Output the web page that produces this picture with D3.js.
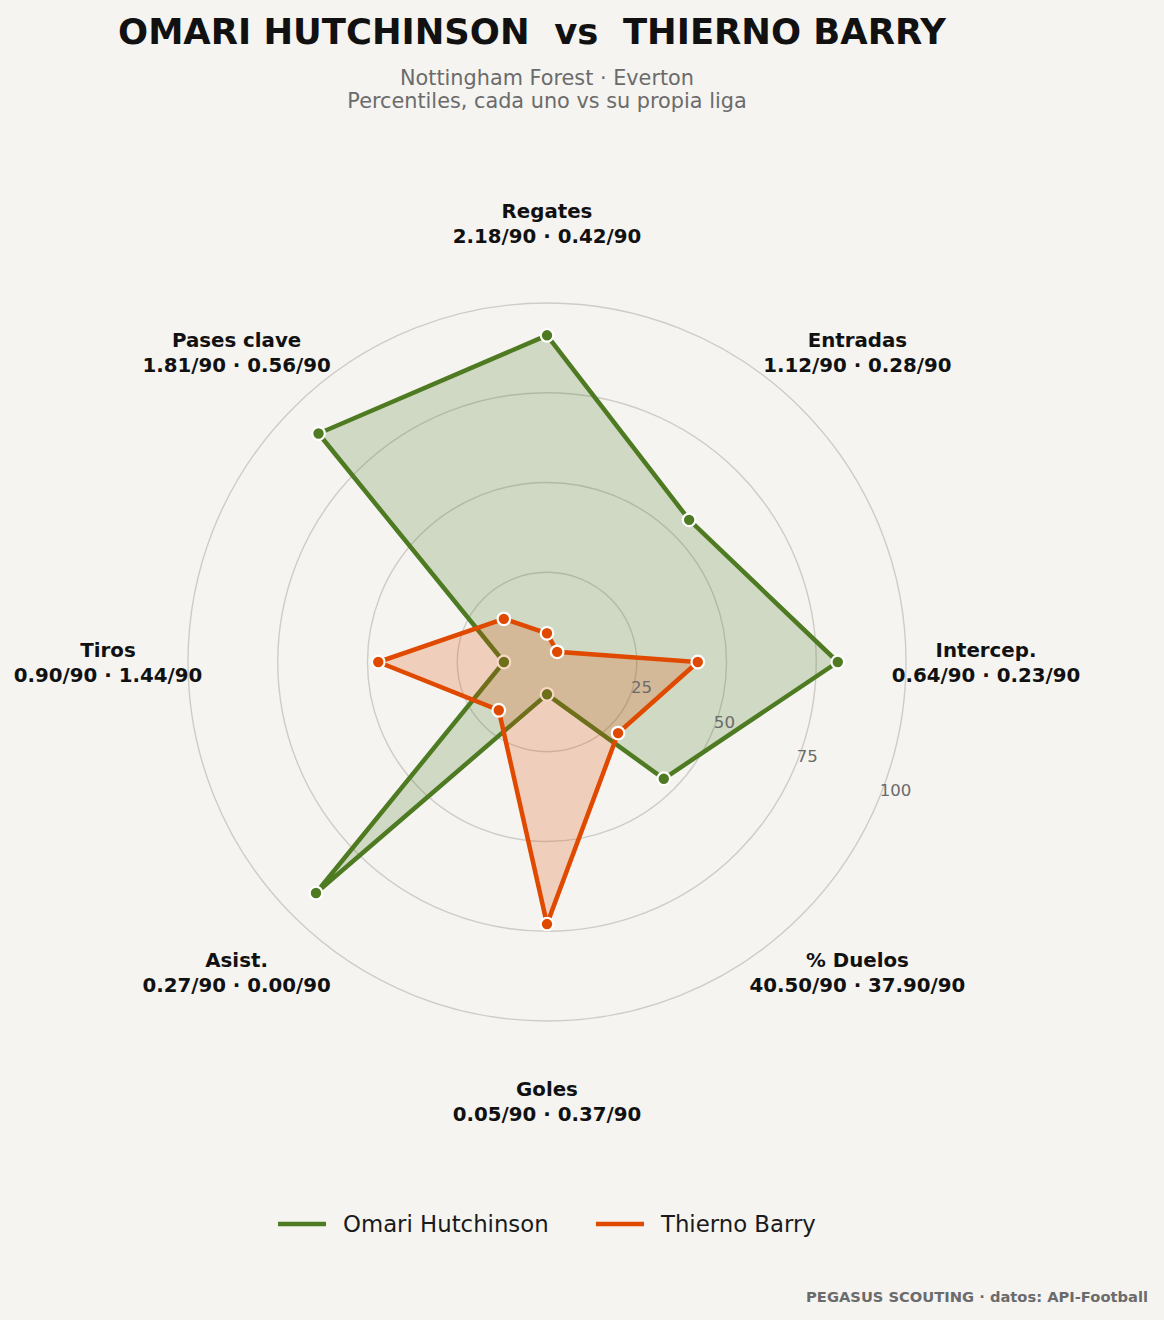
<!DOCTYPE html>
<html>
<head>
<meta charset="utf-8">
<script src="https://cdn.jsdelivr.net/npm/d3@7"></script>
<style>
  html, body { margin: 0; padding: 0; background: #f5f4f1; }
  svg { display: block; }
  text { font-family: "DejaVu Sans", sans-serif; }
</style>
</head>
<body>
<svg id="chart" width="1164" height="1320"></svg>
<script>
const categories = ["Regates", "Entradas", "Intercep.", "% Duelos", "Goles", "Asist.", "Tiros", "Pases clave"];
const valueLabels = ["2.18/90 · 0.42/90", "1.12/90 · 0.28/90", "0.64/90 · 0.23/90", "40.50/90 · 37.90/90",
                     "0.05/90 · 0.37/90", "0.27/90 · 0.00/90", "0.90/90 · 1.44/90", "1.81/90 · 0.56/90"];
const omariValues = [91, 56, 81, 46, 9, 91, 12, 90];
const barryValues = [8, 4, 42, 28, 73, 19, 47, 17];
const ringTicks = [25, 50, 75, 100];
const seriesNames = ["Omari Hutchinson", "Thierno Barry"];
const seriesColors = ["#4e7a21", "#e04a00"];

const svg = d3.select("#chart");
const W = 1164, H = 1320;
const cx = 547, cy = 662, R = 359;

svg.append("rect").attr("width", W).attr("height", H).attr("fill", "#f5f4f1");

// Title
svg.append("text").attr("x", 532).attr("y", 44).attr("text-anchor", "middle")
  .attr("font-size", 35.4).attr("font-weight", "bold").attr("fill", "#111")
  .style("white-space", "pre")
  .text("OMARI HUTCHINSON  vs  THIERNO BARRY");
svg.append("text").attr("x", 547).attr("y", 84.5).attr("text-anchor", "middle")
  .attr("font-size", 20.8).attr("fill", "#6b6b6b").text("Nottingham Forest · Everton");
svg.append("text").attr("x", 547).attr("y", 107.5).attr("text-anchor", "middle")
  .attr("font-size", 20.8).attr("fill", "#6b6b6b").text("Percentiles, cada uno vs su propia liga");

const r = d3.scaleLinear().domain([0, 100]).range([0, R]);
const angle = d3.scalePoint().domain(categories).range([0, 2 * Math.PI * (1 - 1 / categories.length)]);

const g = svg.append("g").attr("transform", `translate(${cx},${cy})`);

// rings
g.selectAll("circle.ring").data(ringTicks).join("circle")
  .attr("class", "ring").attr("r", d => r(d))
  .attr("fill", "none").attr("stroke", "#cfccc7").attr("stroke-width", 1.4);

const radial = d3.lineRadial().angle((d, i) => angle(categories[i])).radius(d => r(d)).curve(d3.curveLinearClosed);

function pt(v, i) {
  const a = angle(categories[i]);
  return [r(v) * Math.sin(a), -r(v) * Math.cos(a)];
}

const series = [omariValues, barryValues];
series.forEach((vals, si) => {
  g.append("path").attr("d", radial(vals))
    .attr("fill", seriesColors[si]).attr("fill-opacity", 0.22).attr("stroke", "none");
  g.append("path").attr("d", radial(vals))
    .attr("fill", "none").attr("stroke", seriesColors[si]).attr("stroke-width", 4.5)
    .attr("stroke-linejoin", "miter");
  g.selectAll(null).data(vals).join("circle")
    .attr("cx", (d, i) => pt(d, i)[0]).attr("cy", (d, i) => pt(d, i)[1])
    .attr("r", 6.3).attr("fill", seriesColors[si]).attr("stroke", "#ffffff").attr("stroke-width", 2.2);
});

// tick labels
const tickAng = 112.5 * Math.PI / 180;
g.selectAll("text.tick").data(ringTicks).join("text")
  .attr("class", "tick")
  .attr("x", d => r(d) * Math.sin(tickAng) + 1)
  .attr("y", d => -r(d) * Math.cos(tickAng) - 3)
  .attr("font-size", 16.6).attr("fill", "#6b6b6b")
  .text(d => d);

// category labels
const labelR = 439;
categories.forEach((c, i) => {
  const a = angle(c);
  const x = labelR * Math.sin(a), y = -labelR * Math.cos(a);
  const t = g.append("text").attr("text-anchor", "middle").attr("font-size", 19.8)
    .attr("font-weight", "bold").attr("fill", "#111");
  t.append("tspan").attr("x", x).attr("y", y - 5).text(c);
  t.append("tspan").attr("x", x).attr("y", y + 20).text(valueLabels[i]);
});

// legend
const legendItems = [{x: 278, name: seriesNames[0], color: seriesColors[0]},
                     {x: 596, name: seriesNames[1], color: seriesColors[1]}];
legendItems.forEach(it => {
  svg.append("line").attr("x1", it.x).attr("x2", it.x + 48).attr("y1", 1224).attr("y2", 1224)
    .attr("stroke", it.color).attr("stroke-width", 4.5);
  svg.append("text").attr("x", it.x + 65).attr("y", 1232).attr("font-size", 22.8)
    .attr("fill", "#1a1a1a").text(it.name);
});

// footer
svg.append("text").attr("x", 1148).attr("y", 1302).attr("text-anchor", "end")
  .attr("font-size", 14.7).attr("font-weight", "bold").attr("fill", "#6b6b6b")
  .text("PEGASUS SCOUTING · datos: API-Football");
</script>
</body>
</html>
